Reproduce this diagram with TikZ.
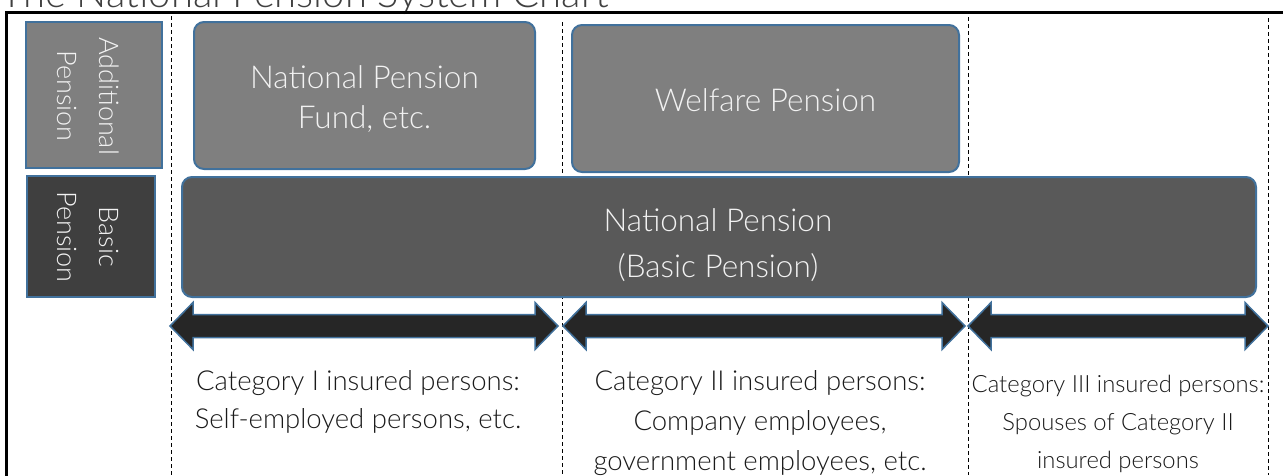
\documentclass[tikz,border=0pt]{standalone}
\usepackage{fontspec}
\setmainfont{Lato Light}
\definecolor{pblue}{HTML}{41719C}
\definecolor{gmid}{HTML}{7F7F7F}
\definecolor{gdark}{HTML}{3F3F3F}
\definecolor{gnat}{HTML}{595959}
\definecolor{garrow}{HTML}{262626}
\definecolor{txtw}{HTML}{F2F2F2}
\definecolor{txtd}{HTML}{1A1A1A}
\definecolor{ttl}{HTML}{404040}
\begin{document}
\begin{tikzpicture}[x=1pt,y=-1pt,
  dashline/.style={draw=black, line width=1pt, dash pattern=on 4pt off 3pt},
  sidebox/.style={draw=pblue, line width=2pt, inner sep=0pt},
  penbox/.style={draw=pblue, line width=2pt, rounded corners=10pt, inner sep=0pt},
  boxtext/.style={text=txtw, font=\fontsize{31.5}{36}\selectfont, anchor=base, inner sep=0pt},
  sidetext/.style={text=txtw, font=\fontsize{27}{42}\selectfont, align=center, rotate=-90, inner sep=0pt},
  cattext/.style={text=txtd, font=\fontsize{27.5}{30}\selectfont, anchor=base, inner sep=0pt},
  catsmall/.style={text=txtd, font=\fontsize{23.8}{26}\selectfont, anchor=base, inner sep=0pt},
  bigarrow/.style={fill=garrow, draw=pblue, line width=1.5pt, line join=miter}
]
\useasboundingbox (0,0) rectangle (1283,475);
% title (cut by the page edge, as in the reference)
\node[anchor=base west, inner sep=0pt, text=ttl, font=\fontsize{40}{44}\selectfont] (title) at (0,7) {The National Pension System Chart};
% frame
\draw[line width=3.5pt] (6.5,485) -- (6.5,12.5) -- (1295,12.5);
% dashed separators
\coordinate (d1t) at (171,16); \coordinate (d1b) at (171,475);
\coordinate (d2t) at (562,22); \coordinate (d2b) at (562,475);
\coordinate (d3t) at (968,17); \coordinate (d3b) at (968,475);
\coordinate (d4t) at (1268,18); \coordinate (d4b) at (1268,475);
\draw[dashline] (d1t) -- (d1b);
\draw[dashline] (d2t) -- (d2b);
\draw[dashline] (d3t) -- (d3b);
\draw[dashline] (d4t) -- (d4b);
% side labels
\node[sidebox, fill=gmid, minimum width=136pt, minimum height=146pt] (addbox) at (94,95) {};
\node[sidetext] (addl) at (88,96) {Additional\\Pension};
\node[sidebox, fill=gdark, minimum width=128pt, minimum height=121pt] (basbox) at (91,236.5) {};
\node[sidetext] (basl) at (88,237) {Basic\\Pension};
% pension boxes
\node[penbox, fill=gmid, minimum width=341pt, minimum height=147pt] (fund) at (364.5,95.5) {};
\node[boxtext] (fund1) at (364.5,88) {National Pension};
\node[boxtext] (fund2) at (364.5,128) {Fund, etc.};
\node[penbox, fill=gmid, minimum width=387pt, minimum height=147pt] (welf) at (765.5,98.5) {};
\node[boxtext] (welf1) at (765.5,111) {Welfare Pension};
\node[penbox, fill=gnat, minimum width=1074pt, minimum height=120pt] (nat) at (719,237) {};
\node[boxtext] (nat1) at (718,231) {National Pension};
\node[boxtext] (nat2) at (718,277) {(Basic Pension)};
% double arrows
\foreach \a/\b in {170/558, 563/965, 968/1268}{
  \draw[bigarrow] (\a,326) -- (\a+23,302.5) -- (\a+23,314.5) -- (\b-23,314.5) -- (\b-23,302.5)
     -- (\b,326) -- (\b-23,349.5) -- (\b-23,337.5) -- (\a+23,337.5) -- (\a+23,349.5) -- cycle;
}
% category texts
\node[cattext] (c1a) at (358,390) {Category I insured persons:};
\node[cattext] (c1b) at (358,428) {Self-employed persons, etc.};
\node[cattext] (c2a) at (760,390) {Category II insured persons:};
\node[cattext] (c2b) at (760,430) {Company employees,};
\node[cattext] (c2c) at (760,470) {government employees, etc.};
\node[catsmall] (c3a) at (1118,392) {Category III insured persons:};
\node[catsmall] (c3b) at (1118,430) {Spouses of Category II};
\node[catsmall] (c3c) at (1118,468) {insured persons};
\end{tikzpicture}
\end{document}
